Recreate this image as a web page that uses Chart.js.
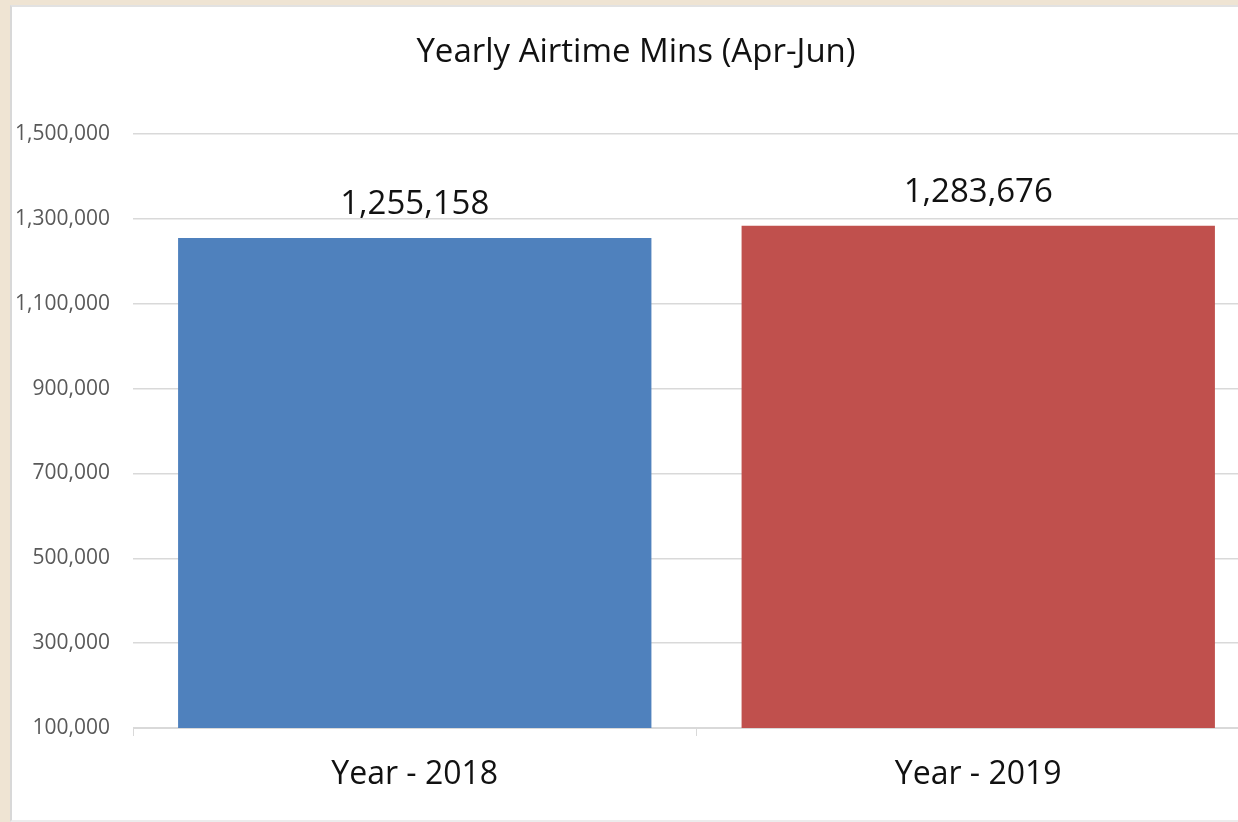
<!DOCTYPE html>
<html>
<head>
<meta charset="utf-8">
<script src="https://cdn.jsdelivr.net/npm/chart.js@4"></script>
<style>
  html, body { margin: 0; padding: 0; }
  body { width: 1238px; height: 822px; overflow: hidden; background: #efe4d3; position: relative; }
  #card { position: absolute; left: 10px; top: 5px; width: 1250px; height: 813px; background: #fff;
          border-left: 2px solid #d8d8d8; border-top: 2px solid #e2e2e2; border-bottom: 2px solid #ececec; }
  #card canvas { position: absolute; left: 0; top: 0; }
</style>
</head>
<body>
<div id="card"><canvas id="grafico" width="1248" height="813"></canvas></div>
<script>
var anos = ["Year - 2018", "Year - 2019"];
var minutos = [1255158, 1283676];
var cores = ["#4f81bd", "#c0504d"];
var ticksY = [100000, 300000, 500000, 700000, 900000, 1100000, 1300000, 1500000];

var fonte = "'Open Sans', 'Noto Sans', sans-serif";

// escreve o valor em cima de cada barra
var rotulos = {
  id: "rotulos",
  afterDatasetsDraw(chart) {
    var ctx = chart.ctx;
    var meta = chart.getDatasetMeta(0);
    ctx.save();
    ctx.font = "33px " + fonte;
    ctx.fillStyle = "#111";
    ctx.textAlign = "center";
    ctx.textBaseline = "middle";
    meta.data.forEach((barra, i) => {
      ctx.fillText(minutos[i].toLocaleString("en-US"), barra.x, barra.y - 33);
    });
    ctx.restore();
  }
};

new Chart(document.getElementById("grafico"), {
  type: "bar",
  data: {
    labels: anos,
    datasets: [{
      data: minutos,
      backgroundColor: cores,
      barPercentage: 0.84,
      categoryPercentage: 1
    }]
  },
  options: {
    responsive: false,
    animation: false,
    layout: { padding: 0 },
    plugins: {
      legend: { display: false },
      tooltip: { enabled: false },
      title: {
        display: true,
        text: "Yearly Airtime Mins (Apr-Jun)",
        color: "#111",
        font: { family: fonte, size: 33, weight: "normal", lineHeight: 1.2 },
        padding: { top: 26, bottom: 61.5 }
      }
    },
    scales: {
      x: {
        offset: true,
        grid: { offset: true, drawOnChartArea: false, drawTicks: true, tickLength: 8, color: "#d9d9d9" },
        border: { display: true, color: "#d9d9d9" },
        ticks: { color: "#111", padding: 20, font: { family: fonte, size: 32 } },
        afterFit: (s) => { s.height = 92; }
      },
      y: {
        min: 100000,
        max: 1500000,
        afterBuildTicks: (s) => { s.ticks = ticksY.map(v => ({ value: v })); },
        grid: { color: "#d9d9d9", drawTicks: false, lineWidth: 1.5 },
        border: { display: false },
        ticks: {
          color: "#595959",
          padding: 23,
          font: { family: fonte, size: 21 },
          callback: (v) => v.toLocaleString("en-US")
        },
        afterFit: (s) => { s.width = 121; }
      }
    }
  },
  plugins: [rotulos]
});
</script>
</body>
</html>
